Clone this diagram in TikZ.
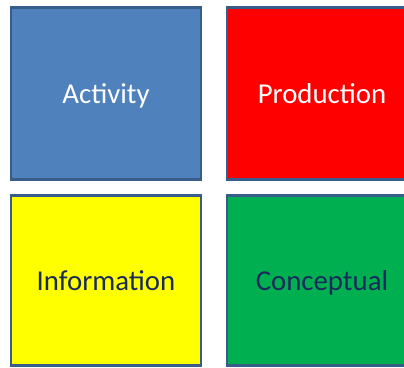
\documentclass[tikz,border=0pt]{standalone}
\usepackage{fontspec}
\setmainfont{Carlito}

\definecolor{actblue}{HTML}{4F81BD}
\definecolor{edgeblue}{HTML}{385D8A}
\definecolor{prodred}{HTML}{FF0000}
\definecolor{infoyellow}{HTML}{FFFF00}
\definecolor{concgreen}{HTML}{00B050}
\definecolor{navytext}{HTML}{1A2A5C}

\tikzset{
  tile/.style={draw=edgeblue, line width=2.8pt, minimum width=190pt,
    minimum height=172pt, inner sep=0pt, text height=19pt, text depth=0pt,
    font=\fontsize{28.8}{34}\selectfont},
}

\begin{document}
\begin{tikzpicture}[x=1pt, y=-1pt]
  \useasboundingbox (0,0) rectangle (404,367);

  % ====== TOP ROW ======
  \node[tile, fill=actblue, text=white] (activity) at (106,93.5) {Activity};
  \node[tile, fill=prodred, text=white] (production) at (322,93.5) {Production};

  % ====== BOTTOM ROW ======
  \node[tile, fill=infoyellow, text=navytext, minimum height=170pt]
    (information) at (106,280.5) {Information};
  \node[tile, fill=concgreen, text=navytext, minimum height=170pt]
    (conceptual) at (322,280.5) {Conceptual};
\end{tikzpicture}
\end{document}
